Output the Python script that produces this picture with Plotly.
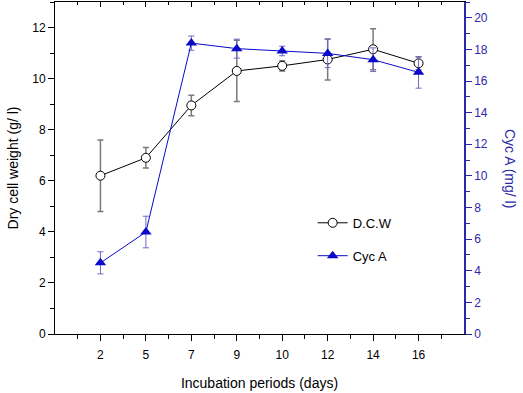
import plotly.graph_objects as go

days = ["2", "5", "7", "9", "10", "12", "14", "16"]
dcw = [6.2, 6.9, 8.95, 10.3, 10.5, 10.75, 11.15, 10.6]
dcw_err = [1.4, 0.4, 0.4, 1.2, 0.2, 0.8, 0.8, 0.25]
cyc = [4.5, 6.45, 18.4, 18.05, 17.9, 17.75, 17.35, 16.55]
cyc_err = [0.7, 1.0, 0.45, 0.6, 0.3, 0.9, 0.75, 1.0]

pos = list(range(1, len(days) + 1))
FONT = "Liberation Sans, Arial, sans-serif"
BLUE = "#0a0ac8"
AXBLUE = "#2a2aa8"

fig = go.Figure()
fig.add_trace(go.Scatter(
    x=pos, y=dcw, name="D.C.W", mode="lines+markers",
    line=dict(color="black", width=1),
    marker=dict(symbol="circle", size=9, color="white", line=dict(color="black", width=1)),
    error_y=dict(type="data", array=dcw_err, color="#7a7a7a", thickness=1.5, width=3),
    legendgroup="a",
))
fig.add_trace(go.Scatter(
    x=pos, y=cyc, name="Cyc A", mode="lines+markers", yaxis="y2",
    line=dict(color=BLUE, width=1),
    marker=dict(symbol="triangle-up", size=10, color=BLUE, line=dict(color=BLUE, width=0)),
    error_y=dict(type="data", array=cyc_err, color="#6a6ac8", thickness=1, width=3),
    legendgroup="b",
))
# invisible trace to draw top mirror axis
fig.add_trace(go.Scatter(x=[pos[0]], y=[dcw[0]], xaxis="x2", mode="markers",
                         marker=dict(opacity=0), showlegend=False, hoverinfo="skip"))

fig.update_layout(
    width=523, height=393,
    margin=dict(l=55, r=59, t=2, b=59, autoexpand=False),
    paper_bgcolor="white", plot_bgcolor="white",
    font=dict(family=FONT, size=12, color="black"),
    xaxis=dict(
        range=[0, len(days) + 1], tickmode="array", tickvals=pos, ticktext=days,
        ticks="outside", ticklen=6, tickwidth=1, tickcolor="black", automargin=False,
        ticklabelstandoff=4,
        minor=dict(tickmode="linear", tick0=0.5, dtick=1, ticks="outside", ticklen=4, tickcolor="black"),
        showline=True, linecolor="black", linewidth=1, showgrid=False, zeroline=False,
        title=dict(text="Incubation periods (days)", font=dict(size=14), standoff=16),
        tickfont=dict(size=12),
    ),
    xaxis2=dict(
        overlaying="x", side="top", matches="x", anchor="y", automargin=False,
        tickmode="array", tickvals=pos, showticklabels=False,
        ticks="inside", ticklen=5, tickcolor="black",
        minor=dict(tickmode="linear", tick0=0.5, dtick=1, ticks="inside", ticklen=3, tickcolor="black"),
        showline=True, linecolor="black", linewidth=1, showgrid=False, zeroline=False,
    ),
    yaxis=dict(
        range=[0, 13], tickmode="linear", tick0=0, dtick=2, automargin=False,
        ticks="outside", ticklen=6, tickcolor="black",
        minor=dict(tickmode="linear", tick0=1, dtick=2, ticks="outside", ticklen=4, tickcolor="black"),
        showline=True, linecolor="black", linewidth=1, showgrid=False, zeroline=False,
        title=dict(text="Dry cell weight (g/ l)", font=dict(size=14), standoff=10),
        tickfont=dict(size=12),
    ),
    yaxis2=dict(
        overlaying="y", side="right", anchor="x", automargin=False,
        range=[0, 21], tickmode="linear", tick0=0, dtick=2,
        ticks="outside", ticklen=6, tickcolor=AXBLUE,
        minor=dict(tickmode="linear", tick0=1, dtick=2, ticks="outside", ticklen=4, tickcolor=AXBLUE),
        showline=True, linecolor=AXBLUE, linewidth=1.5, showgrid=False, zeroline=False,
        tickfont=dict(size=12, color=AXBLUE),
    ),
    legend=dict(x=0.63, y=0.38, xanchor="left", yanchor="top",
                bgcolor="rgba(0,0,0,0)", font=dict(size=13), tracegroupgap=13,
                itemwidth=30),
    annotations=[dict(
        text="Cyc A (mg/ l)", textangle=90, xref="paper", yref="paper",
        x=1.0, xanchor="center", xshift=46, y=0.5, showarrow=False,
        font=dict(size=14, color=AXBLUE),
    )],
)

fig.write_html("out.html", config={"displayModeBar": False},
               post_script="document.body.style.margin='0';document.body.style.overflow='hidden';")
